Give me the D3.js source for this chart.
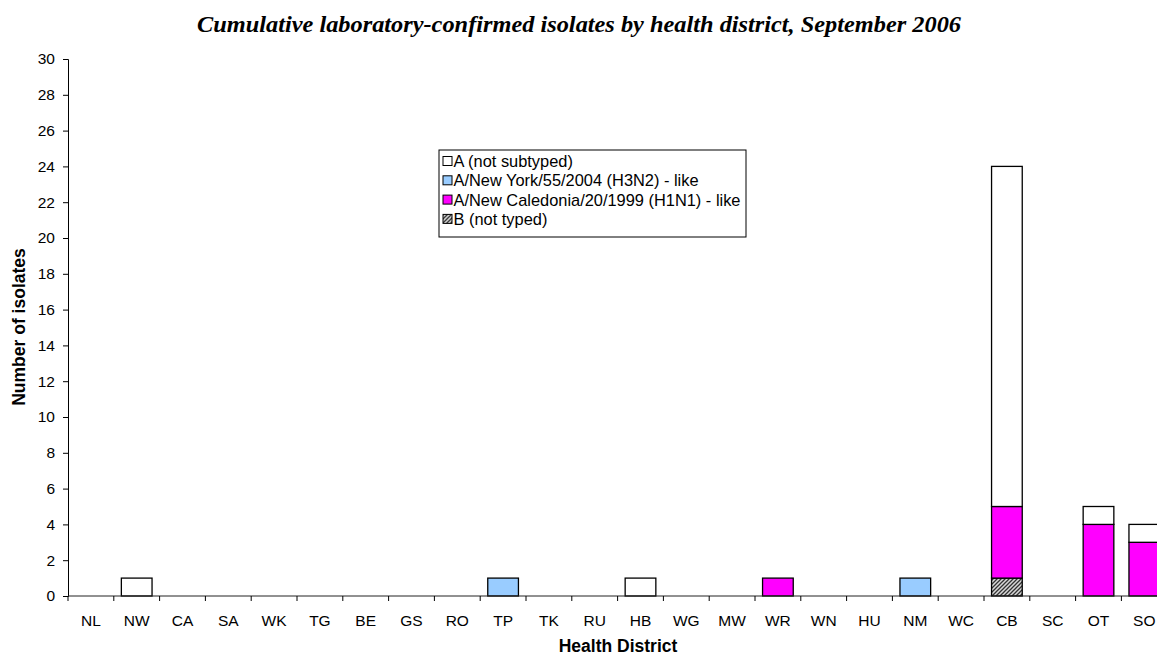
<!DOCTYPE html>
<html>
<head>
<meta charset="utf-8">
<script src="https://cdnjs.cloudflare.com/ajax/libs/d3/7.8.5/d3.min.js"></script>
<style>
  html, body { margin: 0; padding: 0; background: #fff; overflow: hidden; }
  svg { display: block; }
</style>
</head>
<body>
<div id="chart"></div>
<script>
// Données
const districts = ['NL','NW','CA','SA','WK','TG','BE','GS','RO','TP','TK','RU','HB','WG','MW','WR','WN','HU','NM','WC','CB','SC','OT','SO'];
const bNotTyped    = [0,0,0,0,0,0,0,0,0,0,0,0,0,0,0,0,0,0,0,0,1,0,0,0];
const h1n1         = [0,0,0,0,0,0,0,0,0,0,0,0,0,0,0,1,0,0,0,0,4,0,4,3];
const h3n2         = [0,0,0,0,0,0,0,0,0,1,0,0,0,0,0,0,0,0,1,0,0,0,0,0];
const aNotSubtyped = [0,1,0,0,0,0,0,0,0,0,0,0,1,0,0,0,0,0,0,0,19,0,1,1];
const yTicks = d3.range(0, 31, 2);

// Séries empilées du bas vers le haut
const series = [
  { key: 'B (not typed)', values: bNotTyped, fill: 'url(#hatch)' },
  { key: 'A/New Caledonia/20/1999 (H1N1) - like', values: h1n1, fill: '#ff00ff' },
  { key: 'A/New York/55/2004 (H3N2) - like', values: h3n2, fill: '#99ccff' },
  { key: 'A (not subtyped)', values: aNotSubtyped, fill: '#ffffff' }
];

const W = 1157, H = 657;
const M = { left: 68, top: 59, bottom: 596 };
const bandW = 45.8;
const SANS = 'Arial, "Liberation Sans", sans-serif';

const svg = d3.select('#chart').append('svg')
  .attr('width', W).attr('height', H)
  .style('font-family', SANS);

// motif hachuré pour B
const pat = svg.append('defs').append('pattern')
  .attr('id', 'hatch').attr('patternUnits', 'userSpaceOnUse')
  .attr('width', 4).attr('height', 4);
pat.append('rect').attr('width', 4).attr('height', 4).attr('fill', '#d8d8d8');
pat.append('path').attr('d', 'M-1,1 l2,-2 M0,4 l4,-4 M3,5 l2,-2')
  .attr('stroke', '#333').attr('stroke-width', 1.3);

const x = d3.scaleBand()
  .domain(districts)
  .range([M.left, M.left + bandW * districts.length])
  .paddingInner(0.33).paddingOuter(0.165);

const y = d3.scaleLinear().domain([0, 30]).range([M.bottom, M.top]);

// Titre
svg.append('text')
  .attr('x', 579).attr('y', 32)
  .attr('text-anchor', 'middle')
  .attr('font-family', '"Liberation Serif", "Times New Roman", serif')
  .attr('font-weight', 'bold').attr('font-style', 'italic')
  .attr('font-size', 23)
  .attr('textLength', 764).attr('lengthAdjust', 'spacingAndGlyphs')
  .text('Cumulative laboratory-confirmed isolates by health district, September 2006');

// Barres empilées
const stack = d3.stack()
  .keys(series.map((s, i) => i))
  .value((d, k) => series[k].values[d]);
const layers = stack(districts.map((_, i) => i));

layers.forEach((layer, k) => {
  svg.append('g').selectAll('rect')
    .data(layer.filter(d => d[1] - d[0] > 0))
    .enter().append('rect')
    .attr('x', d => x(districts[d.data]))
    .attr('width', x.bandwidth())
    .attr('y', d => y(d[1]))
    .attr('height', d => y(d[0]) - y(d[1]))
    .attr('fill', series[k].fill)
    .attr('stroke', '#000')
    .attr('stroke-width', 1.3);
});

// Axe Y
const yAxis = svg.append('g')
  .attr('transform', `translate(${M.left},0)`)
  .call(d3.axisLeft(y).tickValues(yTicks).tickSize(5).tickPadding(8));
yAxis.select('.domain').attr('stroke', '#000').attr('stroke-width', 1);
yAxis.selectAll('.tick line').attr('stroke', '#000');
yAxis.selectAll('text').attr('font-size', 15.5).attr('fill', '#000')
  .attr('font-family', SANS);

// Axe X
const xg = svg.append('g');
xg.append('line')
  .attr('x1', M.left).attr('x2', M.left + bandW * districts.length)
  .attr('y1', y(0)).attr('y2', y(0))
  .attr('stroke', '#222').attr('stroke-width', 1);
xg.selectAll('line.tk')
  .data(d3.range(districts.length + 1))
  .enter().append('line').attr('class', 'tk')
  .attr('x1', i => M.left + i * bandW).attr('x2', i => M.left + i * bandW)
  .attr('y1', y(0)).attr('y2', y(0) + 5)
  .attr('stroke', '#000');
xg.selectAll('text')
  .data(districts)
  .enter().append('text')
  .attr('x', d => x(d) + x.bandwidth() / 2)
  .attr('y', 626)
  .attr('text-anchor', 'middle')
  .attr('font-size', 15.5)
  .text(d => d);

// Titres des axes
svg.append('text')
  .attr('x', 618).attr('y', 652)
  .attr('text-anchor', 'middle')
  .attr('font-size', 17.5).attr('font-weight', 'bold')
  .text('Health District');

svg.append('text')
  .attr('transform', 'translate(25,327) rotate(-90)')
  .attr('text-anchor', 'middle')
  .attr('font-size', 17.5).attr('font-weight', 'bold')
  .text('Number of isolates');

// Légende
const leg = svg.append('g').attr('transform', 'translate(439,150)');
leg.append('rect')
  .attr('width', 307).attr('height', 87)
  .attr('fill', '#fff').attr('stroke', '#000').attr('stroke-width', 1);
series.slice().reverse().forEach((s, i) => {
  const g = leg.append('g').attr('transform', `translate(4,${11 + i * 19.3})`);
  g.append('rect').attr('x', 0).attr('y', -4.5).attr('width', 9).attr('height', 9)
    .attr('fill', s.fill).attr('stroke', '#000').attr('stroke-width', 1);
  g.append('text').attr('x', 10.5).attr('y', 6)
    .attr('font-size', 16.4).text(s.key);
});
</script>
</body>
</html>
